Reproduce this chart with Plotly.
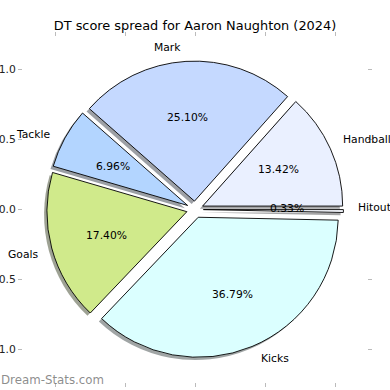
import math
import plotly.graph_objects as go

# DT score breakdown, in drawing order (counter-clockwise from 3 o'clock)
categories = ["Hitout", "Handball", "Mark", "Tackle", "Goals", "Kicks"]
shares = [0.33, 13.42, 25.10, 6.96, 17.40, 36.79]
slice_colors = ["#f7f9ff", "#eaf0ff", "#c5d9ff", "#b3d5ff", "#d0ea8b", "#dbffff"]
explode = [0.06, 0.06, 0.06, 0.06, 0.06, 0.06]

tick_vals = [-1.0, -0.5, 0.0, 0.5, 1.0]
tick_text = ["\u22121.0", "\u22120.5", "0.0", "0.5", "1.0"]

W = H = 390
R_PX = 140.0          # pie radius in pixels (1 data unit)
CX, CY = 195.0, 209.5  # pie centre in pixels
AX_L, AX_R, AX_T, AX_B = 23.0, 367.0, 37.0, 382.0
FONT = "DejaVu Sans"


def hex_to_rgb(h):
    h = h.lstrip("#")
    return tuple(int(h[i:i + 2], 16) for i in (0, 2, 4))


def shadow_color(h):
    r, g, b = hex_to_rgb(h)
    return f"rgba({int(r * 0.3)},{int(g * 0.3)},{int(b * 0.3)},0.5)"


half = R_PX * (1 + max(explode))


def pie_domain(dx=0.0, dy=0.0):
    cx, cy = CX + dx, CY + dy
    return dict(
        x=[(cx - half) / W, (cx + half) / W],
        y=[(H - cy - half) / H, (H - cy + half) / H],
    )


common = dict(
    labels=categories,
    values=shares,
    sort=False,
    direction="counterclockwise",
    rotation=90,
    pull=explode,
    textinfo="none",
    hoverinfo="skip",
    showlegend=False,
)

fig = go.Figure()

# drop shadow: same wedges, offset down-left, darkened and translucent
fig.add_trace(go.Pie(
    **common,
    domain=pie_domain(-0.02 * R_PX, 0.02 * R_PX),
    marker=dict(colors=[shadow_color(c) for c in slice_colors], line=dict(width=0)),
))

fig.add_trace(go.Pie(
    **common,
    domain=pie_domain(),
    marker=dict(colors=slice_colors, line=dict(color="black", width=0.9)),
))

# empty cartesian traces so the data axes (and their top/right twins) are drawn
fig.add_trace(go.Scatter(x=[], y=[], mode="markers", showlegend=False, hoverinfo="skip"))
fig.add_trace(go.Scatter(x=[], y=[], mode="markers", xaxis="x2", yaxis="y2",
                         showlegend=False, hoverinfo="skip"))

# labels at 1.1 r and percentages at 0.6 r, shifted by each wedge's explode
annotations = []
total = sum(shares)
start = 0.0
for name, val, ex in zip(categories, shares, explode):
    span = 360.0 * val / total
    mid = math.radians(start + span / 2)
    start += span
    ux, uy = math.cos(mid), math.sin(mid)
    lx, ly = (1.1 + ex) * ux, (1.1 + ex) * uy
    annotations.append(dict(
        x=lx, y=ly, xref="x", yref="y", text=name, showarrow=False,
        xanchor="left" if lx > 0 else "right", yanchor="middle",
        borderpad=0,
        font=dict(family=FONT, size=10.75, color="black"),
    ))
    px_, py_ = (0.6 + ex) * ux, (0.6 + ex) * uy
    annotations.append(dict(
        x=px_, y=py_, xref="x", yref="y", text=f"{val:.2f}%", showarrow=False,
        xanchor="center", yanchor="middle", borderpad=0,
        font=dict(family=FONT, size=10.75, color="black"),
    ))

annotations.append(dict(
    x=0.0, y=(H - 380) / H, xref="paper", yref="paper", text="Dream-Stats.com",
    showarrow=False, xanchor="left", yanchor="middle", borderpad=0,
    font=dict(family=FONT, size=11.8, color="rgba(120,120,120,0.85)"),
))

# frameless axes with light ticks on all four sides
axis_common = dict(
    tickvals=tick_vals, ticktext=tick_text, ticks="outside", ticklen=4,
    tickwidth=1, tickcolor="#bbbbbb", showline=False,
    showgrid=False, zeroline=False, fixedrange=True, automargin=False,
    tickfont=dict(family=FONT, size=10.75, color="#222222"),
)

x_dom = [AX_L / W, AX_R / W]
x_rng = [(AX_L - CX) / R_PX, (AX_R - CX) / R_PX]
y_dom = [(H - AX_B) / H, (H - AX_T) / H]
y_rng = [(CY - AX_B) / R_PX, (CY - AX_T) / R_PX]

fig.update_layout(
    width=W, height=H,
    margin=dict(l=0, r=0, t=0, b=0, pad=0, autoexpand=False),
    paper_bgcolor="white", plot_bgcolor="rgba(0,0,0,0)",
    title=dict(
        text="DT score spread for Aaron Naughton (2024)",
        x=0.5, xanchor="center", y=(H - 25) / H, yanchor="middle",
        font=dict(family=FONT, size=12.9, color="black"),
    ),
    xaxis=dict(**axis_common, domain=x_dom, range=x_rng),
    yaxis=dict(**axis_common, domain=y_dom, range=y_rng),
    xaxis2=dict(**axis_common, range=x_rng, overlaying="x", side="top",
                anchor="y2", showticklabels=False),
    yaxis2=dict(**axis_common, range=y_rng, overlaying="y", side="right",
                anchor="x2", showticklabels=False),
    annotations=annotations,
)

fig.write_html("out.html")
